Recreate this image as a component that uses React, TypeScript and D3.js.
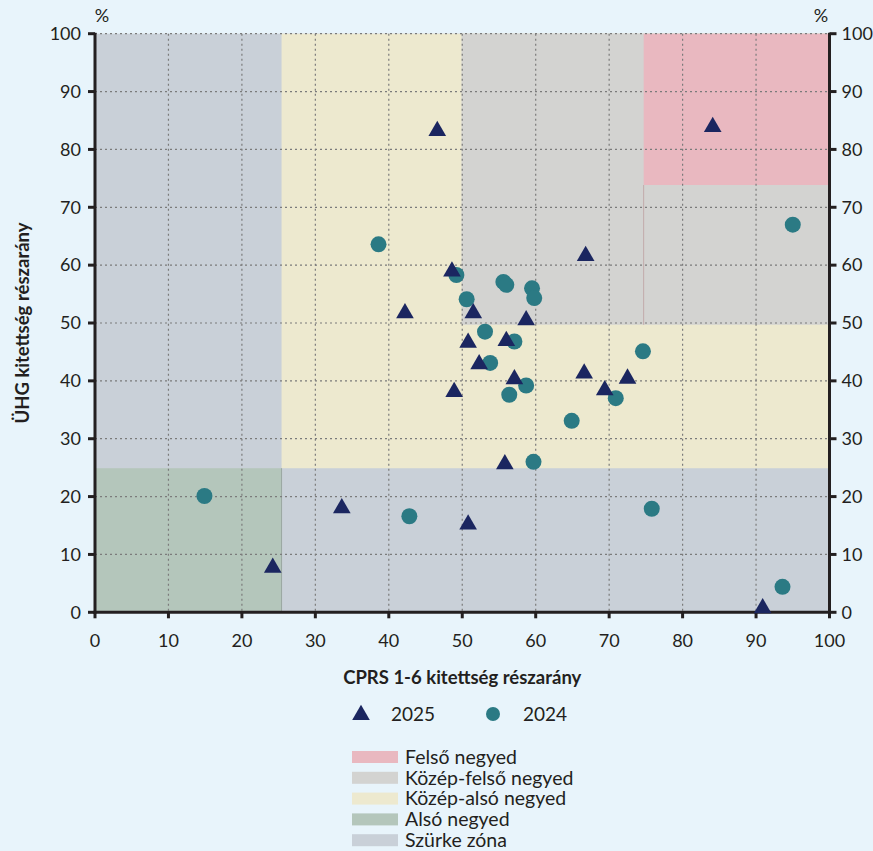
import React from "react";
import * as d3 from "d3";

// CPRS 1-6 (x) vs ÜHG (y) exposure shares, %
const series2025X = [46.6, 84.1, 66.8, 48.6, 42.2, 51.5, 58.7, 50.8, 56.0, 52.3, 57.1, 66.6, 69.4, 72.5, 48.9, 55.8, 33.6, 50.8, 24.2, 90.9];
const series2025Y = [83.2, 83.9, 61.6, 58.9, 51.7, 51.7, 50.5, 46.6, 46.9, 42.9, 40.3, 41.3, 38.4, 40.4, 38.1, 25.6, 18.0, 15.2, 7.7, 0.7];

const series2024X = [38.6, 49.2, 55.6, 56.0, 59.5, 59.8, 50.6, 53.1, 57.1, 53.8, 74.6, 58.7, 56.4, 70.9, 64.9, 59.7, 95.0, 14.9, 42.8, 75.8, 93.6];
const series2024Y = [63.6, 58.3, 57.1, 56.6, 56.0, 54.3, 54.1, 48.5, 46.8, 43.1, 45.1, 39.2, 37.6, 37.0, 33.1, 26.0, 67.0, 20.1, 16.6, 17.9, 4.4];

const seriesNames = ["2025", "2024"];

// zones, drawn back to front: [x0, x1, y0, y1]
const zoneNames = ["Szürke zóna", "Közép-alsó negyed", "Alsó negyed", "Közép-felső negyed", "Felső negyed"];
const zoneBounds: [number, number, number, number][] = [
  [0, 100, 0, 100],
  [25.4, 100, 24.9, 100],
  [0, 25.4, 0, 24.9],
  [49.9, 100, 49.7, 100],
  [74.7, 100, 73.85, 100],
];
const legendZoneOrder = ["Felső negyed", "Közép-felső negyed", "Közép-alsó negyed", "Alsó negyed", "Szürke zóna"];

const ticks = [0, 10, 20, 30, 40, 50, 60, 70, 80, 90, 100];

const zoneColors: Record<string, string> = {
  "Felső negyed": "#e9b8c0",
  "Közép-felső negyed": "#d3d3d1",
  "Közép-alsó negyed": "#ede9cf",
  "Alsó negyed": "#b4c6bb",
  "Szürke zóna": "#c9d0d8",
};

const W = 873;
const H = 851;
const margin = { top: 34, right: 44, bottom: 239, left: 95 };
const font = "Lato, 'Noto Sans', sans-serif";
const ink = "#231f20";
const triColor = "#1b2660";
const dotColor = "#2b7a84";

const App: React.FC = () => {
  const x = d3.scaleLinear().domain([0, 100]).range([margin.left, W - margin.right + 0.5]);
  const y = d3.scaleLinear().domain([0, 100]).range([H - margin.bottom + 0.3, margin.top - 0.3]);

  const tri = d3.symbol().type(d3.symbolTriangle).size(135)();
  const pts2025 = series2025X.map((v, i) => [v, series2025Y[i]]);
  const pts2024 = series2024X.map((v, i) => [v, series2024Y[i]]);

  const x0 = x(0);
  const x1 = x(100);
  const y0 = y(0);
  const y1 = y(100);

  return (
    <svg
      width={W}
      height={H}
      style={{ position: "absolute", left: 0, top: 0, background: "#e8f4fb", fontFamily: font }}
    >
      {/* zones */}
      {zoneNames.map((name, i) => {
        const [a, b, c, d] = zoneBounds[i];
        return (
          <rect
            key={name}
            x={x(a)}
            y={y(d)}
            width={x(b) - x(a)}
            height={y(c) - y(d)}
            fill={zoneColors[name]}
          />
        );
      })}
      {/* thin edges */}
      <line x1={x(74.7)} x2={x(74.7)} y1={y(49.7)} y2={y(73.85)} stroke="#c2aaaa" strokeWidth={1} />
      <line x1={x(25.4)} x2={x(25.4)} y1={y(0)} y2={y(24.9)} stroke="#9aa7a0" strokeWidth={1} />

      {/* grid */}
      <g stroke="#7b7b7b" strokeWidth={1.2} strokeDasharray="2 3">
        {ticks.slice(1, -1).map((t) => (
          <line key={"gx" + t} x1={x(t)} x2={x(t)} y1={y1} y2={y0} />
        ))}
        {ticks.slice(1).map((t) => (
          <line key={"gy" + t} x1={x0} x2={x1} y1={y(t)} y2={y(t)} />
        ))}
      </g>

      {/* axes */}
      <g stroke={ink} strokeWidth={3}>
        <line x1={x0} x2={x0} y1={y1 - 1} y2={y0 + 1.5} />
        <line x1={x1} x2={x1} y1={y1 - 1} y2={y0 + 1.5} />
        <line x1={x0 - 1.5} x2={x1 + 1.5} y1={y0} y2={y0} />
        {ticks.map((t) => (
          <g key={"t" + t}>
            <line x1={x0 - 7} x2={x0} y1={y(t)} y2={y(t)} />
            <line x1={x1} x2={x1 + 7} y1={y(t)} y2={y(t)} />
            <line x1={x(t)} x2={x(t)} y1={y0} y2={y0 + 6} />
          </g>
        ))}
      </g>
      <g fill={ink} fontSize={18}>
        {ticks.map((t) => (
          <g key={"l" + t}>
            <text x={x0 - 14} y={y(t)} dy="0.35em" textAnchor="end">{t}</text>
            <text x={x1 + 12} y={y(t)} dy="0.35em">{t}</text>
            <text x={x(t)} y={647} textAnchor="middle">{t}</text>
          </g>
        ))}
        <text x={102} y={22} textAnchor="middle">%</text>
        <text x={821} y={22} textAnchor="middle">%</text>
      </g>

      {/* axis titles */}
      <text x={(x0 + x1) / 2} y={684} textAnchor="middle" fontWeight="bold" fontSize={18.5} fill={ink}>
        CPRS 1-6 kitettség részarány
      </text>
      <text
        transform={`translate(28.5,${(y0 + y1) / 2}) rotate(-90)`}
        textAnchor="middle"
        fontWeight="bold"
        fontSize={18.5}
        fill={ink}
      >
        ÜHG kitettség részarány
      </text>

      {/* points */}
      {pts2024.map(([a, b], i) => (
        <circle key={"c" + i} cx={x(a)} cy={y(b)} r={8} fill={dotColor} />
      ))}
      {pts2025.map(([a, b], i) => (
        <path key={"tr" + i} d={tri ?? ""} transform={`translate(${x(a)},${y(b)})`} fill={triColor} />
      ))}

      {/* series legend */}
      <path d={tri ?? ""} transform="translate(361,715)" fill={triColor} />
      <text x={391} y={714} dy="0.35em" fontSize={19} fill={ink}>{seriesNames[0]}</text>
      <circle cx={493} cy={714} r={7} fill={dotColor} />
      <text x={523} y={714} dy="0.35em" fontSize={19} fill={ink}>{seriesNames[1]}</text>

      {/* zone legend */}
      {legendZoneOrder.map((name, i) => {
        const cy = 757 + i * 20.8;
        return (
          <g key={"z" + name}>
            <rect x={352} y={cy - 6} width={46} height={12} fill={zoneColors[name]} />
            <text x={405} y={cy} dy="0.35em" fontSize={19.5} fill={ink}>{name}</text>
          </g>
        );
      })}
    </svg>
  );
};

export default App;
